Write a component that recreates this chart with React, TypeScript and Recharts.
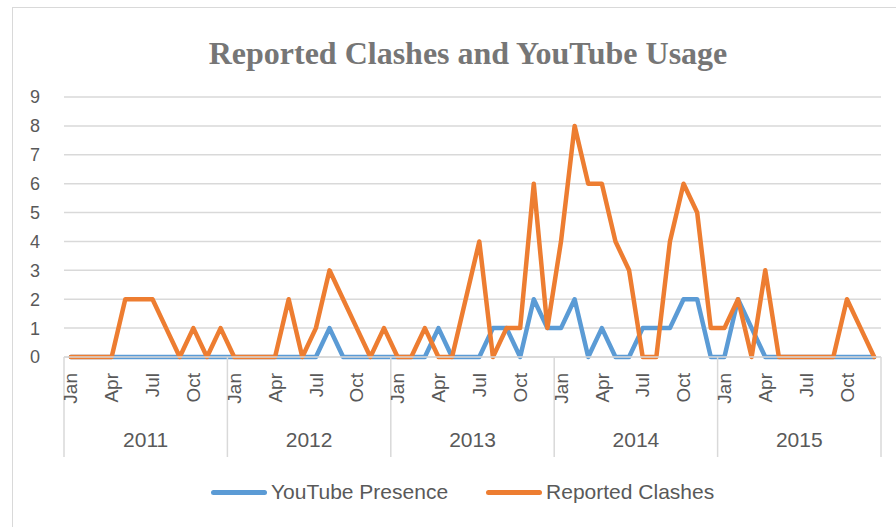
import { CartesianGrid, Customized, Legend, Line, LineChart, XAxis, YAxis } from 'recharts';

const years = ['2011', '2012', '2013', '2014', '2015'];
const monthNames = ['Jan', 'Feb', 'Mar', 'Apr', 'May', 'Jun', 'Jul', 'Aug', 'Sep', 'Oct', 'Nov', 'Dec'];
const labeledMonths = ['Jan', 'Apr', 'Jul', 'Oct'];
const seriesNames = ['YouTube Presence', 'Reported Clashes'];

// one value per month, Jan 2011 .. Dec 2015
const youtubePresence = [
    0, 0, 0, 0, 0, 0, 0, 0, 0, 0, 0, 0,
    0, 0, 0, 0, 0, 0, 0, 1, 0, 0, 0, 0,
    0, 0, 0, 1, 0, 0, 0, 1, 1, 0, 2, 1,
    1, 2, 0, 1, 0, 0, 1, 1, 1, 2, 2, 0,
    0, 2, 1, 0, 0, 0, 0, 0, 0, 0, 0, 0,
];
const reportedClashes = [
    0, 0, 0, 0, 2, 2, 2, 1, 0, 1, 0, 1,
    0, 0, 0, 0, 2, 0, 1, 3, 2, 1, 0, 1,
    0, 0, 1, 0, 0, 2, 4, 0, 1, 1, 6, 1,
    4, 8, 6, 6, 4, 3, 0, 0, 4, 6, 5, 1,
    1, 2, 0, 3, 0, 0, 0, 0, 0, 2, 1, 0,
];
const yTicks = [0, 1, 2, 3, 4, 5, 6, 7, 8, 9];

const data = youtubePresence.map((v, i) => ({
    idx: i,
    month: monthNames[i % 12],
    year: years[Math.floor(i / 12)],
    youtube: v,
    clashes: reportedClashes[i],
}));

const monthTicks = data.filter(d => labeledMonths.includes(d.month)).map(d => d.idx);
const yearTicks = years.map((_, k) => k * 12 + 5.5);
const dividerTicks = [-0.5, ...years.map((_, k) => k * 12 + 11.5)];
const xTicks = [...dividerTicks, ...monthTicks, ...yearTicks].sort((a, b) => a - b);

const font = '"Liberation Sans", Arial, sans-serif';
const textColor = '#595959';
const gridColor = '#D9D9D9';

function XTick({ x, y, payload }: any) {
    const v = payload.value;
    if (dividerTicks.includes(v)) {
        return <line x1={x} x2={x} y1={y} y2={y + 100} stroke={gridColor} strokeWidth={1.5} />;
    }
    if (yearTicks.includes(v)) {
        return (
            <text x={x} y={y + 90} textAnchor="middle" fill={textColor} fontSize={21} fontFamily={font}>
                {years[Math.floor(v / 12)]}
            </text>
        );
    }
    return (
        <text
            transform={`translate(${x},${y + 16}) rotate(-90)`}
            textAnchor="end"
            dy="0.35em"
            fill={textColor}
            fontSize={19}
            fontFamily={font}
        >
            {monthNames[v % 12]}
        </text>
    );
}

function LegendContent({ payload }: any) {
    const items = [...(payload || [])].sort((a: any, b: any) => seriesNames.indexOf(a.value) - seriesNames.indexOf(b.value));
    return (
        <div style={{ display: 'flex', alignItems: 'center', fontFamily: font, fontSize: 21, color: textColor }}>
            {items.map((p: any, i: number) => (
                <div key={p.value} style={{ display: 'flex', alignItems: 'center', marginLeft: i ? 38 : 0 }}>
                    <span style={{ display: 'inline-block', width: 56, height: 5, borderRadius: 3, background: p.color, marginRight: 4 }} />
                    <span>{p.value}</span>
                </div>
            ))}
        </div>
    );
}

function Title() {
    return (
        <text x={468} y={64} textAnchor="middle" fontFamily='"Liberation Serif", "Times New Roman", serif' fontWeight="bold" fontSize={32} fill="#767676">
            Reported Clashes and YouTube Usage
        </text>
    );
}

export default function App() {
    return (
        <div style={{ position: 'absolute', left: 0, top: 0, width: 896, height: 527, overflow: 'hidden', background: '#fff' }}>
            <div style={{ position: 'absolute', left: 12, top: 7, width: 1000, height: 1000, border: `1.5px solid ${gridColor}` }} />
            <LineChart width={896} height={527} data={data} margin={{ top: 97, right: 15, bottom: 0, left: 0 }}>
                <CartesianGrid horizontal vertical={false} stroke={gridColor} strokeWidth={1.5} />
                <XAxis
                    dataKey="idx"
                    type="number"
                    domain={[-0.5, 59.5]}
                    ticks={xTicks}
                    interval={0}
                    height={170}
                    tickSize={0}
                    tickMargin={0}
                    tickLine={false}
                    axisLine={{ stroke: gridColor, strokeWidth: 1.5 }}
                    tick={<XTick />}
                />
                <YAxis
                    domain={[0, 9]}
                    ticks={yTicks}
                    interval={0}
                    width={64}
                    tickSize={0}
                    tickMargin={24}
                    tickLine={false}
                    axisLine={false}
                    tick={{ fill: textColor, fontSize: 18, fontFamily: font }}
                />
                <Line type="linear" dataKey="youtube" name={seriesNames[0]} stroke="#5B9BD5" strokeWidth={4.5} strokeLinejoin="round" strokeLinecap="round" dot={false} activeDot={false} isAnimationActive={false} />
                <Line type="linear" dataKey="clashes" name={seriesNames[1]} stroke="#ED7D31" strokeWidth={4.5} strokeLinejoin="round" strokeLinecap="round" dot={false} activeDot={false} isAnimationActive={false} />
                <Legend verticalAlign="middle" align="center" layout="horizontal" wrapperStyle={{ top: 480, left: 211, width: 'auto' }} content={<LegendContent />} />
                <Customized component={Title} />
            </LineChart>
        </div>
    );
}
